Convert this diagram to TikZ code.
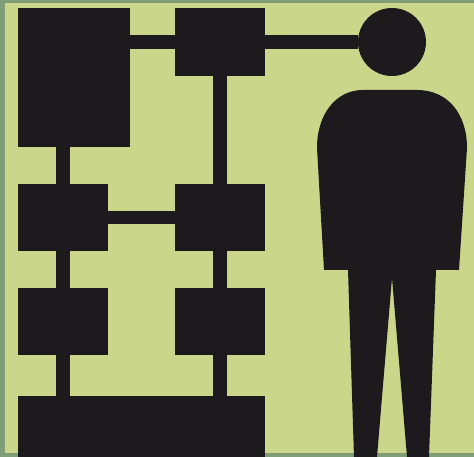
\documentclass[tikz,border=0pt]{standalone}
\definecolor{band}{HTML}{7F9E78}
\definecolor{panel}{HTML}{CAD78A}
\definecolor{ink}{HTML}{1C1A1D}
\tikzset{
  block/.style={fill=ink,draw=none,inner sep=0pt,outer sep=0pt,anchor=north west,minimum width=#1},
  link/.style={draw=ink,line width=13.5pt}
}
\begin{document}
\begin{tikzpicture}[x=1pt,y=-1pt]
\useasboundingbox (0,0) rectangle (474,457);
\fill[band] (0,0) rectangle (474,457);
\fill[panel] (5,3) rectangle (474,453);
% links first
\node[block=112pt,minimum height=139pt] (A) at (18,8) {};
\node[block=90pt,minimum height=68pt] (B) at (175,8) {};
\node[block=90pt,minimum height=67pt] (C) at (18,184) {};
\node[block=90pt,minimum height=67pt] (D) at (175,184) {};
\node[block=90pt,minimum height=67pt] (E) at (18,288) {};
\node[block=90pt,minimum height=67pt] (F) at (175,288) {};
\node[block=247pt,minimum height=61pt] (G) at (18,396) {};
\node[circle,fill=ink,inner sep=0pt,outer sep=0pt,minimum size=68pt] (H) at (392,42) {};
\draw[link] (A.east |- B.west) -- (B.west);
\draw[link] (B.east) -- (H.west);
\draw[link] (B.south) -- (D.north);
\draw[link] (C.north |- A.south) -- (C.north);
\draw[link] (C.south) -- (E.north);
\draw[link] (E.south) -- (E.south |- G.north);
\draw[link] (C.east) -- (D.west);
\draw[link] (D.south) -- (F.north);
\draw[link] (F.south) -- (F.south |- G.north);
% figure
\fill[ink] (363,90) -- (417,90)
  .. controls (448,90) and (467,114) .. (467,148)
  -- (459,270) -- (436,270) -- (429,457) -- (407,457) -- (392,278)
  -- (377,457) -- (354,457) -- (348,270) -- (324,270) -- (317,148)
  .. controls (317,114) and (336,90) .. (363,90) -- cycle;
\end{tikzpicture}
\end{document}
